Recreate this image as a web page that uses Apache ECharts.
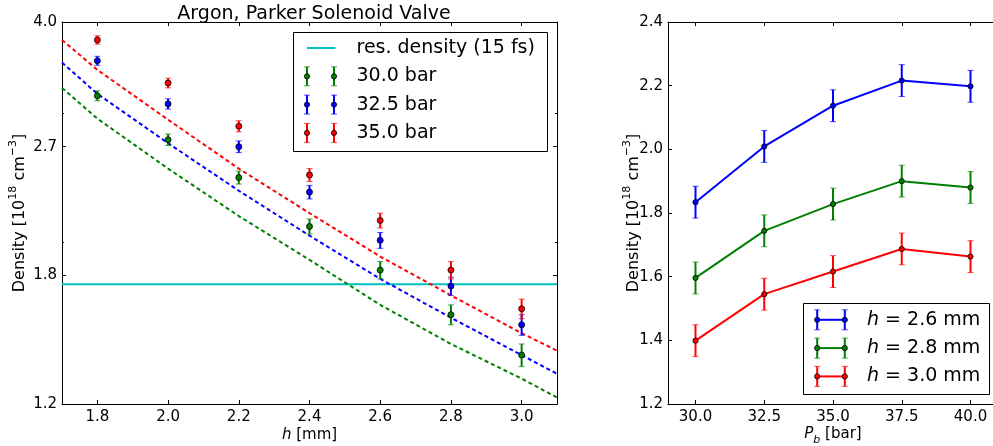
<!DOCTYPE html>
<html>
<head>
<meta charset="utf-8">
<script src="https://cdn.jsdelivr.net/npm/echarts@6/dist/echarts.min.js"></script>
<style>html,body{margin:0;padding:0;background:#fff}#c{width:993px;height:446px}</style>
</head>
<body>
<div id="c"></div>
<script>
// ---------- data (left panel) ----------
const hValues = [1.8, 2.0, 2.2, 2.4, 2.6, 2.8, 3.0];
const dens30 = [3.17, 2.76, 2.45, 2.10, 1.83, 1.59, 1.40];
const dens325 = [3.54, 3.09, 2.70, 2.34, 2.01, 1.74, 1.54];
const dens35 = [3.78, 3.30, 2.88, 2.47, 2.14, 1.83, 1.62];
const densErr = 0.05;
const modelH = [1.7, 1.8, 2.0, 2.2, 2.4, 2.6, 2.8, 3.0, 3.1];
const model30 = [3.25, 2.95, 2.52, 2.17, 1.89, 1.64, 1.45, 1.30, 1.225];
const model325 = [3.52, 3.19, 2.73, 2.35, 2.04, 1.78, 1.575, 1.40, 1.32];
const model35 = [3.78, 3.44, 2.94, 2.52, 2.19, 1.91, 1.69, 1.50, 1.42];
const resDensity = 1.75;
const leftXRange = [1.7, 3.1];
const leftXTicks = [1.8, 2.0, 2.2, 2.4, 2.6, 2.8, 3.0];
const leftYRange = [1.2, 4.0];
const leftYTicks = [1.2, 1.8, 2.7, 4.0];
const leftYMinor = [2, 3];
const leftLegend = ['res. density (15 fs)', '30.0 bar', '32.5 bar', '35.0 bar'];

// ---------- data (right panel) ----------
const pressures = [30, 32.5, 35, 37.5, 40];
const h26 = [1.834, 2.009, 2.137, 2.216, 2.198];
const h28 = [1.596, 1.744, 1.828, 1.900, 1.880];
const h30 = [1.399, 1.545, 1.616, 1.687, 1.663];
const rightXRange = [29, 41];
const rightXTicks = [30, 32.5, 35, 37.5, 40];
const rightYRange = [1.2, 2.4];
const rightLegend = ['2.6', '2.8', '3.0'];

const FONT = 'DejaVu Sans';
const BLUE = '#0000ff', GREEN = '#008000', RED = '#ff0000', CYAN = '#00bfbf';
const L = Math.log;

function errData(xs, ys, e, tr) {
  return xs.map((x, i) => [x, tr(ys[i]), tr(ys[i] - e), tr(ys[i] + e)]);
}
function errRender(color, r, cap) {
  return function (params, api) {
    const p = api.coord([api.value(0), api.value(1)]);
    const lo = api.coord([api.value(0), api.value(2)]);
    const hi = api.coord([api.value(0), api.value(3)]);
    return {
      type: 'group', children: [
        {type: 'line', shape: {x1: p[0], y1: lo[1], x2: p[0], y2: hi[1]}, style: {stroke: color, lineWidth: 2}},
        {type: 'line', shape: {x1: p[0] - cap, y1: lo[1], x2: p[0] + cap, y2: lo[1]}, style: {stroke: color, lineWidth: 1, opacity: 0.7}},
        {type: 'line', shape: {x1: p[0] - cap, y1: hi[1], x2: p[0] + cap, y2: hi[1]}, style: {stroke: color, lineWidth: 1, opacity: 0.7}},
        {type: 'circle', shape: {cx: p[0], cy: p[1], r: r}, style: {fill: color, stroke: '#000', lineWidth: 0.8}}
      ]
    };
  };
}
const axisLineStyle = {show: true, lineStyle: {color: '#000', width: 1}};
const tickLbl = {color: '#000', fontFamily: FONT, fontSize: 15};

const xAxes = [
  {gridIndex: 0, type: 'value', position: 'bottom', min: leftXRange[0], max: leftXRange[1],
   axisLine: axisLineStyle, splitLine: {show: false},
   axisTick: {inside: true, length: 4, lineStyle: {color: '#000'}, customValues: leftXTicks},
   axisLabel: Object.assign({customValues: leftXTicks, margin: 6, formatter: v => v.toFixed(1)}, tickLbl),
   name: '{i|h} [mm]', nameLocation: 'middle', nameGap: 24, nameMoveOverlap: false,
   nameTextStyle: {color: '#000', fontFamily: FONT, fontSize: 15, rich: {i: {fontStyle: 'italic', fontFamily: 'DejaVu Sans', fontSize: 15}}}},
  {gridIndex: 0, type: 'value', position: 'top', min: leftXRange[0], max: leftXRange[1],
   axisLine: axisLineStyle, splitLine: {show: false},
   axisTick: {inside: true, length: 4, lineStyle: {color: '#000'}, customValues: leftXTicks},
   axisLabel: {show: false}},
  {gridIndex: 1, type: 'value', position: 'bottom', min: rightXRange[0], max: rightXRange[1],
   axisLine: axisLineStyle, splitLine: {show: false},
   axisTick: {inside: true, length: 4, lineStyle: {color: '#000'}, customValues: rightXTicks},
   axisLabel: Object.assign({customValues: rightXTicks, margin: 6, formatter: v => v.toFixed(1)}, tickLbl),
   name: '{i|P}{s|b}{n| [bar]}', nameLocation: 'middle', nameGap: 23, nameMoveOverlap: false,
   nameTextStyle: {color: '#000', fontFamily: FONT, fontSize: 15,
     rich: {i: {fontStyle: 'italic', fontSize: 15, fontFamily: FONT, verticalAlign: 'top', lineHeight: 19},
            n: {fontSize: 15, fontFamily: FONT, verticalAlign: 'top', lineHeight: 19},
            s: {fontStyle: 'italic', fontSize: 11, fontFamily: FONT, verticalAlign: 'bottom', lineHeight: 19}}}},
  {gridIndex: 1, type: 'value', position: 'top', min: rightXRange[0], max: rightXRange[1],
   axisLine: axisLineStyle, splitLine: {show: false},
   axisTick: {inside: true, length: 4, lineStyle: {color: '#000'}, customValues: rightXTicks},
   axisLabel: {show: false}}
];

const densName = 'Density [10{sup|18} cm{sup|−3}]';
const densNameStyle = {color: '#000', fontFamily: FONT, fontSize: 16, lineHeight: 24, verticalAlign: 'bottom',
  rich: {sup: {fontSize: 11, fontFamily: FONT, lineHeight: 24, verticalAlign: 'top', color: '#000'}}};

const lyTicks = leftYTicks.map(L), lyMinor = leftYMinor.map(L);
const yAxes = [
  {gridIndex: 0, type: 'value', position: 'left', min: L(leftYRange[0]), max: L(leftYRange[1]),
   axisLine: axisLineStyle, splitLine: {show: false},
   axisTick: {inside: true, length: 4, lineStyle: {color: '#000'}, customValues: lyTicks},
   axisLabel: Object.assign({customValues: lyTicks, margin: 5, formatter: v => Math.exp(v).toFixed(1)}, tickLbl),
   name: densName, nameLocation: 'middle', nameGap: 30, nameRotate: 90, nameMoveOverlap: false, nameTextStyle: densNameStyle},
  {gridIndex: 0, type: 'value', position: 'right', min: L(leftYRange[0]), max: L(leftYRange[1]),
   axisLine: axisLineStyle, splitLine: {show: false},
   axisTick: {inside: true, length: 4, lineStyle: {color: '#000'}, customValues: lyTicks},
   axisLabel: {show: false}},
  {gridIndex: 0, type: 'value', position: 'left', min: L(leftYRange[0]), max: L(leftYRange[1]),
   axisLine: {show: false}, splitLine: {show: false},
   axisTick: {inside: true, length: 2, lineStyle: {color: '#000'}, customValues: lyMinor},
   axisLabel: {show: false}},
  {gridIndex: 0, type: 'value', position: 'right', min: L(leftYRange[0]), max: L(leftYRange[1]),
   axisLine: {show: false}, splitLine: {show: false},
   axisTick: {inside: true, length: 2, lineStyle: {color: '#000'}, customValues: lyMinor},
   axisLabel: {show: false}},
  {gridIndex: 1, type: 'value', position: 'left', min: rightYRange[0], max: rightYRange[1], interval: 0.2,
   axisLine: axisLineStyle, splitLine: {show: false},
   axisTick: {inside: true, length: 4, lineStyle: {color: '#000'}},
   axisLabel: Object.assign({margin: 5, formatter: v => v.toFixed(1)}, tickLbl),
   name: densName, nameLocation: 'middle', nameGap: 22, nameRotate: 90, nameMoveOverlap: false, nameTextStyle: densNameStyle},
  {gridIndex: 1, type: 'value', position: 'right', min: rightYRange[0], max: rightYRange[1], interval: 0.2,
   axisLine: axisLineStyle, splitLine: {show: false},
   axisTick: {inside: true, length: 4, lineStyle: {color: '#000'}},
   axisLabel: {show: false}}
];

const ident = v => v;
function dashed(ys, color) {
  return {type: 'line', xAxisIndex: 0, yAxisIndex: 0, symbol: 'none', silent: true, z: 2,
    data: modelH.map((h, i) => [h, L(ys[i])]),
    lineStyle: {color: color, width: 2, type: [4, 3]}};
}
function errSeries(xi, yi, xs, ys, tr, color, r, cap) {
  return {type: 'custom', xAxisIndex: xi, yAxisIndex: yi, z: 5, silent: true,
    renderItem: errRender(color, r, cap), encode: {x: 0, y: [1, 2, 3]},
    data: errData(xs, ys, densErr, tr)};
}
function solid(ys, color) {
  return {type: 'line', xAxisIndex: 2, yAxisIndex: 4, symbol: 'none', silent: true, z: 3,
    data: pressures.map((p, i) => [p, ys[i]]), lineStyle: {color: color, width: 2}};
}

const series = [
  {type: 'line', xAxisIndex: 0, yAxisIndex: 0, symbol: 'none', silent: true, z: 2,
   data: leftXRange.map(x => [x, L(resDensity)]), lineStyle: {color: CYAN, width: 2}},
  dashed(model30, GREEN), dashed(model325, BLUE), dashed(model35, RED),
  errSeries(0, 0, hValues, dens30, L, GREEN, 3, 3),
  errSeries(0, 0, hValues, dens325, L, BLUE, 3, 3),
  errSeries(0, 0, hValues, dens35, L, RED, 3, 3),
  solid(h26, BLUE), solid(h28, GREEN), solid(h30, RED),
  errSeries(2, 4, pressures, h26, ident, BLUE, 2.6, 3),
  errSeries(2, 4, pressures, h28, ident, GREEN, 2.6, 3),
  errSeries(2, 4, pressures, h30, ident, RED, 2.6, 3)
];

// ---------- legends (drawn as graphic groups) ----------
function errIcon(x, y, color, half) {
  return [
    {type: 'line', shape: {x1: x, y1: y - half, x2: x, y2: y + half}, style: {stroke: color, lineWidth: 2}},
    {type: 'line', shape: {x1: x - 3, y1: y - half, x2: x + 3, y2: y - half}, style: {stroke: color, lineWidth: 1, opacity: 0.7}},
    {type: 'line', shape: {x1: x - 3, y1: y + half, x2: x + 3, y2: y + half}, style: {stroke: color, lineWidth: 1, opacity: 0.7}},
    {type: 'circle', shape: {cx: x, cy: y, r: 2.6}, style: {fill: color, stroke: '#000', lineWidth: 0.8}}
  ];
}
const legText = {fill: '#000', fontFamily: FONT, fontSize: 19, verticalAlign: 'middle', align: 'left'};
const leftColors = [CYAN, GREEN, BLUE, RED];
const leftLegChildren = [{type: 'rect', shape: {x: 0, y: 0, width: 254, height: 119}, style: {fill: '#fff', stroke: '#000', lineWidth: 1}}];
leftLegend.forEach((t, i) => {
  const y = 15.5 + i * 28.3;
  if (i === 0) {
    leftLegChildren.push({type: 'line', shape: {x1: 13.5, y1: y, x2: 42, y2: y}, style: {stroke: CYAN, lineWidth: 2}});
  } else {
    leftLegChildren.push(...errIcon(13.5, y, leftColors[i], 9.5), ...errIcon(40.5, y, leftColors[i], 9.5));
  }
  leftLegChildren.push({type: 'text', x: 63, y: y, style: Object.assign({text: t}, legText)});
});
const rightColors = [BLUE, GREEN, RED];
const rightLegChildren = [{type: 'rect', shape: {x: 0, y: 0, width: 186, height: 91}, style: {fill: '#fff', stroke: '#000', lineWidth: 1}}];
rightLegend.forEach((t, i) => {
  const y = 16.3 + i * 28.3;
  rightLegChildren.push({type: 'line', shape: {x1: 13.7, y1: y, x2: 41.3, y2: y}, style: {stroke: rightColors[i], lineWidth: 2}});
  rightLegChildren.push(...errIcon(13.7, y, rightColors[i], 10), ...errIcon(41.3, y, rightColors[i], 10));
  rightLegChildren.push({type: 'text', x: 63.5, y: y, style: Object.assign({text: '{i|h} = ' + t + ' mm',
    rich: {i: {fontStyle: 'italic', fontFamily: FONT, fontSize: 19}}}, legText)});
});

const chart = echarts.init(document.getElementById('c'), null, {renderer: 'canvas'});
chart.setOption({
  animation: false,
  backgroundColor: '#fff',
  title: {text: 'Argon, Parker Solenoid Valve', left: 309, top: 0, textAlign: 'center',
    textStyle: {color: '#000', fontFamily: FONT, fontSize: 19, fontWeight: 'normal'}},
  grid: [
    {left: 62, right: 436, top: 22, bottom: 42, outerBoundsMode: 'none', containLabel: false},
    {left: 668, width: 330, top: 22, bottom: 42, outerBoundsMode: 'none', containLabel: false}
  ],
  xAxis: xAxes,
  yAxis: yAxes,
  series: series,
  graphic: [
    {type: 'group', left: 293, top: 32, children: leftLegChildren, z: 100},
    {type: 'group', left: 803, top: 303, children: rightLegChildren, z: 100}
  ]
});
</script>
</body>
</html>
